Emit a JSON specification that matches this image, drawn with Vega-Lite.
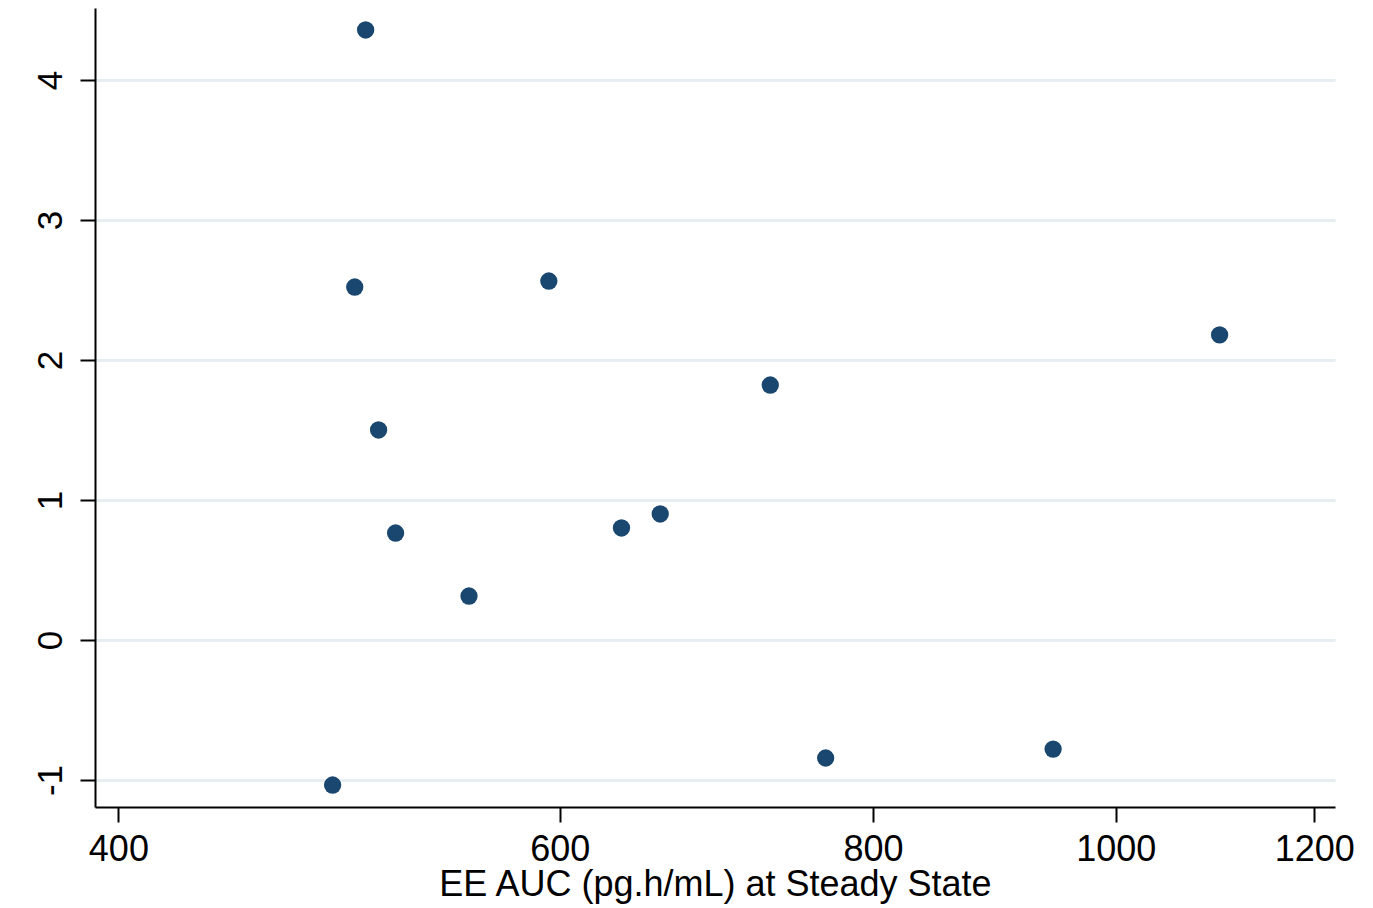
{
  "$schema": "https://vega.github.io/schema/vega-lite/v6.json",
  "autosize": "none",
  "width": 1240,
  "height": 799,
  "padding": {"left": 95, "top": 8, "right": 38, "bottom": 101},
  "background": "white",
  "config": {"view": {"stroke": null}},
  "data": {"values": [
    {"auc": 502, "value": 4.357},
    {"auc": 497, "value": 2.521},
    {"auc": 594, "value": 2.564},
    {"auc": 508, "value": 1.5},
    {"auc": 516, "value": 0.764},
    {"auc": 552, "value": 0.314},
    {"auc": 635, "value": 0.8},
    {"auc": 658, "value": 0.9},
    {"auc": 728, "value": 1.821},
    {"auc": 1100, "value": 2.179},
    {"auc": 487, "value": -1.036},
    {"auc": 766, "value": -0.843},
    {"auc": 944, "value": -0.779}
  ]},
  "mark": {"type": "circle", "size": 300, "color": "#1a476f", "opacity": 1},
  "encoding": {
    "x": {
      "field": "auc", "type": "quantitative",
      "scale": {"type": "log", "domain": [391.5, 1223], "nice": false},
      "axis": {
        "values": [400, 600, 800, 1000, 1200],
        "labelExpr": "'' + datum.value",
        "title": "EE AUC (pg.h/mL) at Steady State",
        "grid": false,
        "domainColor": "black", "domainWidth": 2,
        "tickColor": "black", "tickWidth": 2, "tickSize": 15,
        "labelFont": "Liberation Sans", "labelFontSize": 36, "labelColor": "black",
        "labelPadding": 10, "labelFlush": false,
        "titleFont": "Liberation Sans", "titleFontSize": 36, "titleFontWeight": "normal",
        "titleColor": "black", "titlePadding": 0
      }
    },
    "y": {
      "field": "value", "type": "quantitative",
      "scale": {"domain": [-1.193, 4.514], "nice": false, "zero": false},
      "axis": {
        "values": [-1, 0, 1, 2, 3, 4],
        "labelExpr": "'' + datum.value",
        "title": null,
        "grid": true, "gridColor": "#e6eef1", "gridWidth": 3,
        "domainColor": "black", "domainWidth": 2,
        "tickColor": "black", "tickWidth": 2, "tickSize": 15,
        "labelFont": "Liberation Sans", "labelFontSize": 35, "labelColor": "black",
        "labelAngle": -90, "labelAlign": "center", "labelBaseline": "bottom",
        "labelPadding": 12
      }
    }
  }
}
